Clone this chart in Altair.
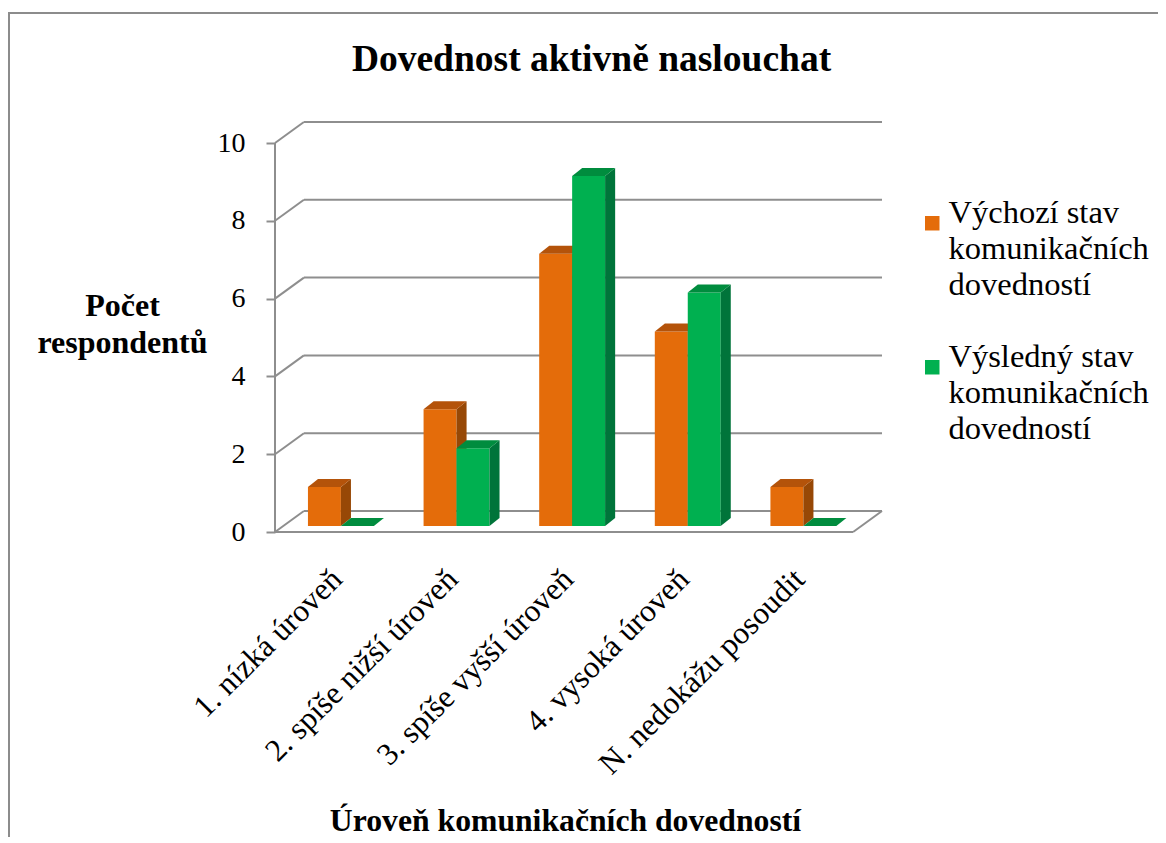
import json
import pandas as pd
import altair as alt

# ---------------- data ----------------
categories = ["1. nízká úroveň", "2. spíše nižší úroveň", "3. spíše vyšší úroveň",
              "4. vysoká úroveň", "N. nedokážu posoudit"]
series = ["Výchozí stav komunikačních dovedností", "Výsledný stav komunikačních dovedností"]
vychozi = [1, 3, 7, 5, 1]
vysledny = [0, 2, 9, 6, 0]
y_ticks = [0, 2, 4, 6, 8, 10]
legend_lines = [["Výchozí stav", "komunikačních", "dovedností"],
                ["Výsledný stav", "komunikačních", "dovedností"]]

# ---------------- styles / 3D geometry constants ----------------
FONT = "Liberation Serif"
GRID = "#8e8e8e"
front_col = ["#E46C0A", "#00B050"]
top_col = ["#B4530A", "#008C3E"]
side_col = ["#974806", "#00743A"]

W = 0.285               # bar width (category units)
BDX, BDY = 0.07, 0.155  # bar plane offset from front
SDX, SDY = 0.087, 0.205  # bar depth
DX, DY = 0.25, 0.54     # wall depth
X_MIN, X_MAX = -0.5, 4.5 + DX
Y_MAX = 10 + DY

values = [vychozi, vysledny]

front_rows, side_rows, top_rows = [], [], []
for s, vals in enumerate(values):
    for i, v in enumerate(vals):
        x1 = i + BDX - W if s == 0 else i + BDX
        x2 = x1 + W
        y0 = BDY
        yt = v + BDY
        bid = f"{s}-{i}"
        front_rows.append(dict(series=series[s], s=s, x1=x1, x2=x2, y1=y0, y2=yt))
        side_rows += [dict(s=s, bar=bid, x=x2, yu=yt, yl=y0),
                      dict(s=s, bar=bid, x=x2 + SDX, yu=yt + SDY, yl=y0 + SDY)]
        top_rows += [dict(s=s, bar=bid, x=x1, yu=yt, yl=yt),
                     dict(s=s, bar=bid, x=x1 + SDX, yu=yt + SDY, yl=yt),
                     dict(s=s, bar=bid, x=x2, yu=yt + SDY, yl=yt),
                     dict(s=s, bar=bid, x=x2 + SDX, yu=yt + SDY, yl=yt + SDY)]

front_df = pd.DataFrame(front_rows)
side_df = pd.DataFrame(side_rows)
top_df = pd.DataFrame(top_rows)

grid_rows = []
for t in y_ticks:
    grid_rows.append(dict(x=X_MIN + DX, x2=X_MAX, y=t + DY, y2=t + DY))   # back wall
    grid_rows.append(dict(x=X_MIN, x2=X_MIN + DX, y=t, y2=t + DY))        # side wall diagonal
grid_rows.append(dict(x=X_MIN, x2=X_MIN, y=0, y2=10))                     # front vertical axis
grid_rows.append(dict(x=X_MIN, x2=4.5, y=0, y2=0))                        # floor front edge
grid_rows.append(dict(x=4.5, x2=X_MAX, y=0, y2=DY))                       # floor right edge
grid_df = pd.DataFrame(grid_rows)

xscale = alt.Scale(domain=[X_MIN, X_MAX], nice=False, zero=False)
yscale = alt.Scale(domain=[0, Y_MAX], nice=False, zero=False)

cat_expr = json.dumps(categories, ensure_ascii=False) + "[datum.value]"
leg_expr = (f"datum.label == {json.dumps(series[0], ensure_ascii=False)} ? "
            f"{json.dumps(legend_lines[0], ensure_ascii=False)} : "
            f"{json.dumps(legend_lines[1], ensure_ascii=False)}")

x_axis = alt.Axis(values=[0, 1, 2, 3, 4], labelExpr=cat_expr, ticks=False, domain=False,
                  grid=False, labelAngle=-45, labelAlign="right", labelBaseline="top",
                  labelPadding=31, labelOffset=-7, labelFont=FONT, labelFontSize=31.5,
                  labelColor="#000000",
                  labelLimit=500, labelOverlap=False, labelBound=False, labelFlush=False,
                  title="Úroveň komunikačních dovedností", titleFont=FONT, titleFontSize=31.7,
                  titleFontWeight="bold", titleColor="#000000", titleX=290, titleY=298,
                  titleAlign="center", titleBaseline="alphabetic", titleAnchor="start")
y_axis = alt.Axis(values=y_ticks, ticks=True, tickSize=9, tickWidth=2, tickColor=GRID,
                  domain=False, grid=False, labelPadding=21, labelFont=FONT, labelFontSize=28,
                  labelColor="#000000", labelBaseline="middle",
                  title=["Počet", "respondentů"], titleAngle=0, titleFont=FONT, titleFontSize=32,
                  titleFontWeight="bold", titleColor="#000000", titleX=-153, titleY=193,
                  titleAlign="center", titleBaseline="alphabetic", titleLineHeight=37,
                  titleAnchor="start")


def X(field):
    return alt.X(field, type="quantitative", scale=xscale, axis=x_axis)


def Y(field):
    return alt.Y(field, type="quantitative", scale=yscale, axis=y_axis)


frame = alt.Chart(pd.DataFrame({"a": [0]})).mark_rect(
    fill=None, stroke="#8c8c8c", strokeWidth=2).encode(
    x=alt.value(-266), x2=alt.value(1000), y=alt.value(-109), y2=alt.value(800))

grid = alt.Chart(grid_df).mark_rule(color=GRID, strokeWidth=2).encode(
    x=X("x"), x2="x2:Q", y=Y("y"), y2="y2:Q",
)

legend = alt.Legend(orient="none", legendX=641, legendY=85, title=None,
                    labelFont=FONT, labelFontSize=32.5, labelColor="#000000",
                    symbolType="square", symbolSize=210, symbolStrokeWidth=0,
                    labelExpr=leg_expr, rowPadding=39, labelBaseline="alphabetic",
                    labelOffset=0, labelLimit=500, padding=0)

layers = [frame, grid]
for s in range(2):
    layers.append(
        alt.Chart(front_df[front_df.s == s]).mark_rect().encode(
            x=X("x1"), x2="x2:Q", y=Y("y1"), y2="y2:Q",
            color=alt.Color("series:N",
                            scale=alt.Scale(domain=series, range=front_col),
                            legend=legend),
        )
    )
    layers.append(
        alt.Chart(side_df[side_df.s == s]).mark_area(color=side_col[s], interpolate="linear").encode(
            x=X("x"), y=Y("yu"), y2="yl:Q", detail="bar:N",
        )
    )
    layers.append(
        alt.Chart(top_df[top_df.s == s]).mark_area(color=top_col[s], interpolate="linear").encode(
            x=X("x"), y=Y("yu"), y2="yl:Q", detail="bar:N",
        )
    )

chart = alt.layer(*layers).properties(
    width=607, height=410,
    autosize=alt.AutoSizeParams(type="none"),
    padding={"left": 267, "top": 114, "right": 276, "bottom": 305},
    title=alt.TitleParams("Dovednost aktivně naslouchat", font=FONT, fontSize=37.5,
                          fontWeight="bold", color="#000000", anchor="middle", frame="group",
                          dx=13, offset=-96, baseline="alphabetic"),
).configure(
    background="white",
    view=alt.ViewConfig(stroke=None),
    style={"guide-label": {"lineHeight": 36}},
)

chart.save("out.html", embed_options={"renderer": "svg", "actions": False})
